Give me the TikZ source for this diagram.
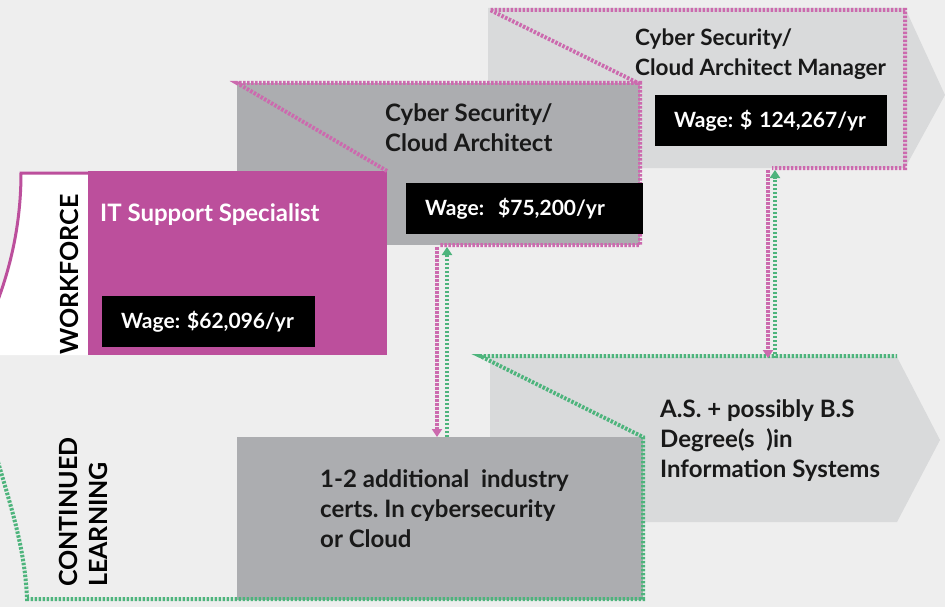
\documentclass[tikz,border=0pt]{standalone}
\usepackage{fontspec}
\setmainfont{Lato}
\usetikzlibrary{arrows.meta}
\frenchspacing

\definecolor{bggray}{HTML}{EEEEEE}
\definecolor{chevgray}{HTML}{D9DADB}
\definecolor{boxgray}{HTML}{ACADB0}
\definecolor{wfmagenta}{HTML}{BC4F9C}
\definecolor{pinkdot}{HTML}{CC6AAE}
\definecolor{greendot}{HTML}{4DB47C}

\newcommand{\titlefont}{\fontsize{24}{30}\selectfont\bfseries}
\newcommand{\wagefont}{\fontsize{21}{24}\selectfont\bfseries}
\newcommand{\sidefont}{\fontsize{25}{30}\selectfont\bfseries}

\tikzset{
  pinkdots/.style={draw=pinkdot, line width=4pt, dash pattern=on 2.5pt off 1.5pt},
  greendots/.style={draw=greendot, line width=4pt, dash pattern=on 2.5pt off 1.5pt},
  wagebox/.style={fill=black, text=white, font=\wagefont, minimum height=51pt,
    inner xsep=19pt, inner ysep=0pt, align=left, anchor=north west},
  jobtext/.style={font=\titlefont, text=black!90, align=left, inner sep=0pt, anchor=base west},
  sidetext/.style={font=\sidefont, align=left, inner sep=0pt, anchor=base west, rotate=90},
  tip/.style={-{Triangle[width=10pt,length=8pt]}}
}

\begin{document}
\begin{tikzpicture}[x=1pt,y=-1pt]
        \useasboundingbox (0,0) rectangle (945,607);
        \fill[bggray] (0,0) rectangle (945,607);

        % Chevrons in the back
        \fill[chevgray] (488,8) -- (905,8) -- (945,95) -- (905,168) -- (488,168) -- cycle;
        \fill[chevgray] (490,357) -- (897,357) -- (940,440) -- (897,522) -- (490,522) -- cycle;

        % Workforce bracket
        \fill[white] (21,174) .. controls (21,220) and (12,262) .. (-2,300) -- (-2,355) -- (88,355) -- (88,174) -- cycle;
        \draw[wfmagenta, line width=3pt] (-2,300) .. controls (12,262) and (21,220) .. (21,173) -- (90,173);

        % Boxes
        \fill[boxgray] (237,83) rectangle (640,245);
        \fill[wfmagenta] (88,171) rectangle (387,355);
        \fill[boxgray] (237,437) rectangle (643,600);

        % Pink dotted outline of the workforce path
        \draw[pinkdots] (387,171) -- (237,83) -- (640,83) -- (640,245) -- (440,245);
        \draw[pinkdots] (640,84) -- (490,10) -- (905,10) -- (905,168) -- (772,168);

        % Green dotted outline of the learning path
        \draw[greendots] (-2,462) .. controls (12,510) and (25,550) .. (27,599) -- (643,599) -- (643,437) -- (480,356) -- (897,356);

        % Named ends for the connectors
        \coordinate (archdown) at (437,247);
        \coordinate (certtop) at (437,437);
        \coordinate (certup) at (447,437);
        \coordinate (archup) at (447,247);
        \coordinate (mgrdown) at (768,170);
        \coordinate (degtop) at (768,358);
        \coordinate (degup) at (775,358);
        \coordinate (mgrup) at (775,170);

        % Up and down connectors
        \draw[pinkdots, tip, pinkdot] (archdown) -- (certtop);
        \draw[greendots, tip, greendot] (certup) -- (archup);
        \draw[pinkdots, tip, pinkdot] (mgrdown) -- (degtop);
        \draw[greendots, tip, greendot] (degup) -- (mgrup);

        % Job titles (base is the last line)
        \node[jobtext, text=white] (itspec) at (100,221) {IT Support Specialist};
        \node[jobtext] (arch) at (385,152) {Cyber Security/\\Cloud Architect};
        \node[jobtext, font=\fontsize{22.5}{30}\selectfont\bfseries] (mgr) at (635,76) {Cyber Security/\\Cloud Architect Manager};

        % Wages
        \node[wagebox, text width=175pt] (itwage) at (102,296) {Wage: \$62,096/yr};
        \node[wagebox, text width=199pt] (archwage) at (406,183) {Wage:\ \ \$75,200/yr};
        \node[wagebox, text width=194pt] (mgrwage) at (655,95) {Wage: \$ 124,267/yr};

        % Learning
        \node[jobtext] (cert) at (320,547) {1-2 additional\ \ industry\\certs. In cybersecurity\\or Cloud};
        \node[jobtext] (degree) at (660,477) {A.S. + possibly B.S\\Degree(s\ \ )in\\Information Systems};

        % Side labels
        \node[sidetext] (workforce) at (78,355) {WORKFORCE};
        \node[sidetext] (learning) at (107,587) {CONTINUED\\LEARNING};
\end{tikzpicture}
\end{document}
